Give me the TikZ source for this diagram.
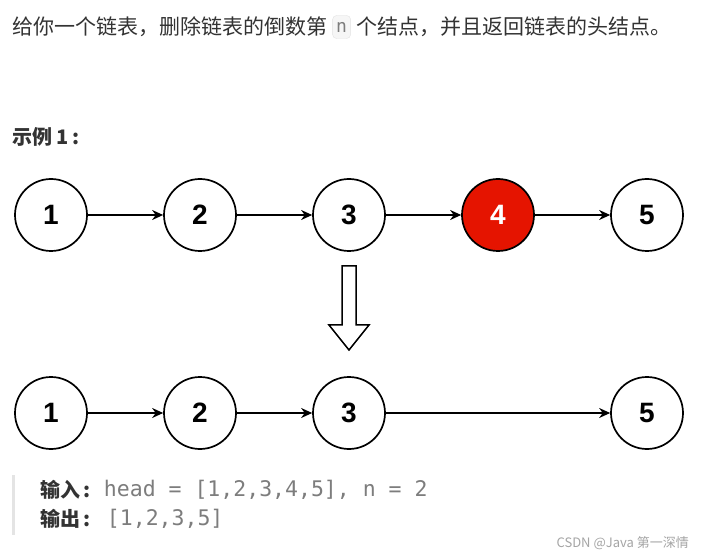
\documentclass[tikz,border=0pt]{standalone}
\usepackage{fontspec}
\usepackage{tikz}
\usepackage{xcolor}
\setmainfont{Liberation Sans}
\setmonofont{DejaVu Sans Mono}
\newfontfamily\cjk{Noto Sans CJK SC}
\usetikzlibrary{arrows.meta, positioning}
\definecolor{cText}{RGB}{51,51,51}
\definecolor{cCode}{RGB}{125,125,125}
\definecolor{cRed}{RGB}{229,20,0}
\definecolor{cBar}{RGB}{228,228,228}
\definecolor{cBoxFill}{RGB}{246,246,246}
\definecolor{cBoxLine}{RGB}{226,226,226}
\definecolor{cMark}{RGB}{165,165,165}
\tikzset{
	listnode/.style ={circle, draw=black, line width=1.7pt, minimum size=72pt, inner sep=0pt, fill=white, font=\fontsize{28}{28}\selectfont\bfseries},
	delnode/.style  ={listnode, fill=cRed, text=white},
	link/.style     ={-{Stealth[length=11pt, width=10pt]}, line width=1.6pt},
	txt/.style      ={inner sep=0pt, text=cText, font=\fontsize{21}{21}\selectfont\cjk},
	boldtxt/.style  ={txt, font=\fontsize{20}{20}\selectfont\cjk\bfseries},
	codebox/.style  ={rectangle, rounded corners=4pt, draw=cBoxLine, fill=cBoxFill, text=cCode, minimum width=18pt, minimum height=23pt, inner sep=2pt, font=\fontsize{18}{18}\selectfont\ttfamily},
	codetxt/.style  ={inner sep=0pt, text=cCode, font=\fontsize{21.5}{21.5}\selectfont\ttfamily},
}
\begin{document}
\begin{tikzpicture}[x=1pt, y=-1pt]
	\useasboundingbox[fill=white] (0,0) rectangle (702,556);
	% problem statement
	\node[txt, anchor=west] (title1) at (12,27) {给你一个链表，删除链表的倒数第};
	\node[codebox, right=5pt of title1] (ncode) {n};
	\node[txt, right=5pt of ncode] (title2) {个结点，并且返回链表的头结点。};
	\node[boldtxt, anchor=west] (example) at (12,137) {示例 1\,:};
	% list before deletion
	\node[listnode] (a1) at (51,215) {1};
	\node[listnode] (a2) at (200,215) {2};
	\node[listnode] (a3) at (349,215) {3};
	\node[delnode]  (a4) at (498,215) {4};
	\node[listnode] (a5) at (647,215) {5};
	\draw[link] (a1) -- (a2);
	\draw[link] (a2) -- (a3);
	\draw[link] (a3) -- (a4);
	\draw[link] (a4) -- (a5);
	% hollow arrow
	\draw[line width=1.5pt, fill=white] (342,266) -- (356,266) -- (356,325) -- (369,325) -- (349,350) -- (329,325) -- (342,325) -- cycle;
	% list after deletion
	\node[listnode] (b1) at (51,413) {1};
	\node[listnode] (b2) at (200,413) {2};
	\node[listnode] (b3) at (349,413) {3};
	\node[listnode] (b5) at (647,413) {5};
	\draw[link] (b1) -- (b2);
	\draw[link] (b2) -- (b3);
	\draw[link] (b3) -- (b5);
	% input and output
	\fill[cBar] (12,475) rectangle (15,535);
	\node[boldtxt, anchor=west] (inlabel) at (40,490) {输入\,:};
	\node[codetxt, right=13pt of inlabel] (intext) {head = [1,2,3,4,5], n = 2};
	\node[boldtxt, anchor=west] (outlabel) at (40,519) {输出\,:};
	\node[codetxt, right=16pt of outlabel] (outtext) {[1,2,3,5]};
	% watermark
	\node[inner sep=0pt, anchor=east, text=cMark, font=\fontsize{13}{13}\selectfont\cjk] (mark) at (689,543) {CSDN @Java 第一深情};
\end{tikzpicture}
\end{document}
